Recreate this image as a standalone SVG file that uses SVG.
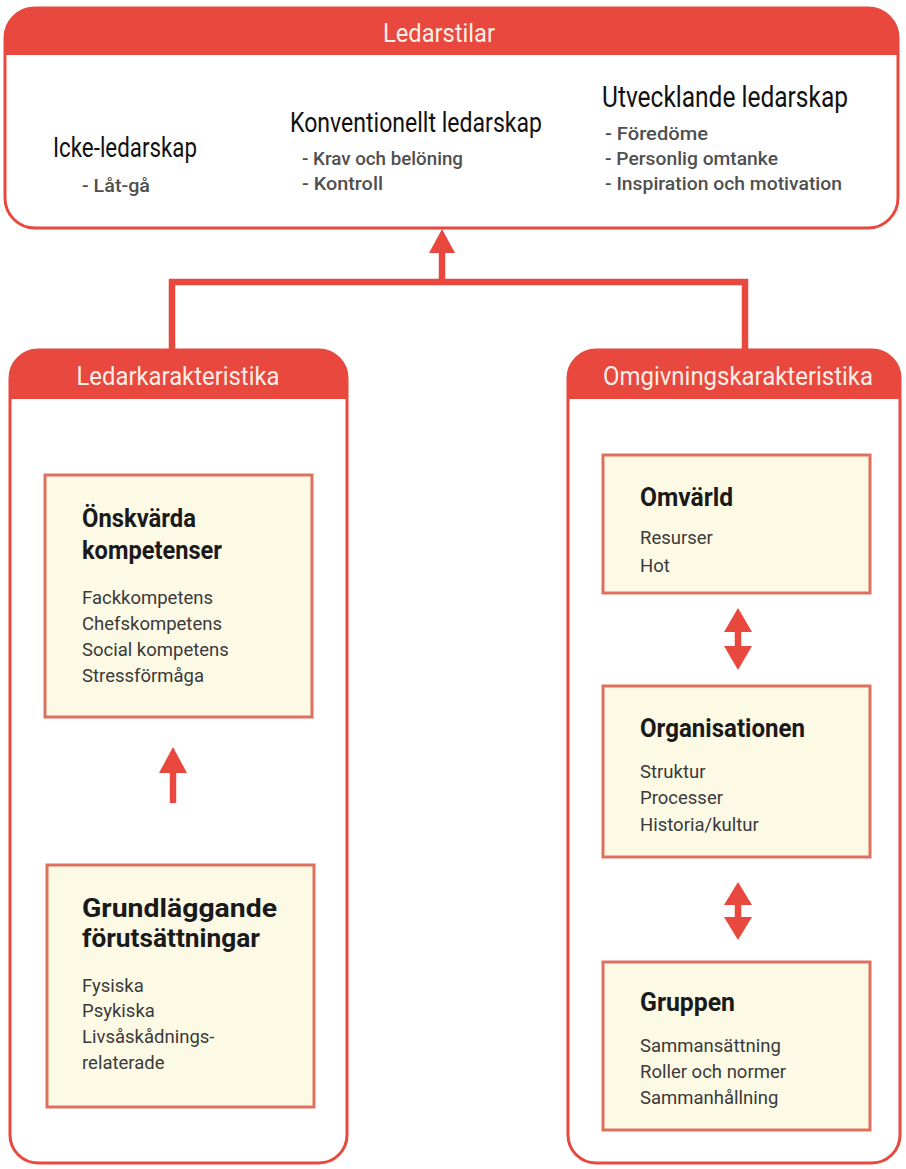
<svg xmlns="http://www.w3.org/2000/svg" width="906" height="1169" viewBox="0 0 906 1169">
  <style>
    .frame { fill: #ffffff; stroke: #e8483d; stroke-width: 3; }
    .band { fill: #e8483d; }
    .band-text { font-family: "Roboto", "Liberation Sans", sans-serif; font-size: 25px; fill: #fdeee6; text-anchor: middle; }
    .style-title { font-family: "Roboto", "Liberation Sans", sans-serif; font-size: 27px; fill: #111111; }
    .style-item { font-family: "Roboto", "Liberation Sans", sans-serif; font-size: 19px; font-weight: 500; fill: #4f4f4f; }
    .card { fill: #fcf9e5; stroke: #de7060; stroke-width: 3; }
    .card-title { font-family: "Roboto", "Liberation Sans", sans-serif; font-size: 25px; font-weight: bold; fill: #1a1a1a; }
    .card-item { font-family: "Roboto", "Liberation Sans", sans-serif; font-size: 18.5px; fill: #3a3a3a; }
    .link { fill: none; stroke: #e8483d; stroke-width: 6.5; }
    .head { fill: #e8483d; }
  </style>

  <rect width="906" height="1169" fill="#ffffff"/>

  <!-- Ledarstilar -->
  <g id="ledarstilar">
    <rect class="frame" x="5" y="8" width="893" height="220" rx="30"/>
    <path class="band" d="M5,55 V38 A30,30 0 0 1 35,8 H868 A30,30 0 0 1 898,38 V55 Z"/>
    <text class="band-text" x="439" y="42" textLength="112" lengthAdjust="spacingAndGlyphs">Ledarstilar</text>
    <text class="style-title" x="53" y="157" textLength="144" lengthAdjust="spacingAndGlyphs">Icke-ledarskap</text>
    <text class="style-item" x="82" y="192" textLength="68" lengthAdjust="spacingAndGlyphs">- Låt-gå</text>
    <text class="style-title" x="290" y="132" textLength="252" lengthAdjust="spacingAndGlyphs">Konventionellt ledarskap</text>
    <text class="style-item" x="302" y="165" textLength="161" lengthAdjust="spacingAndGlyphs">- Krav och belöning</text>
    <text class="style-item" x="302" y="190" textLength="81" lengthAdjust="spacingAndGlyphs">-  Kontroll</text>
    <text class="style-title" x="602" y="107" style="font-size:30px" textLength="246" lengthAdjust="spacingAndGlyphs">Utvecklande ledarskap</text>
    <text class="style-item" x="605" y="140" textLength="103" lengthAdjust="spacingAndGlyphs">- Föredöme</text>
    <text class="style-item" x="605" y="165" textLength="173" lengthAdjust="spacingAndGlyphs">- Personlig omtanke</text>
    <text class="style-item" x="605" y="190" textLength="237" lengthAdjust="spacingAndGlyphs">- Inspiration och motivation</text>
  </g>

  <!-- Ledarkarakteristika -->
  <g id="ledarkarakteristika">
    <rect class="frame" x="10" y="350" width="337" height="813" rx="28"/>
    <path class="band" d="M10,399 V378 A28,28 0 0 1 38,350 H319 A28,28 0 0 1 347,378 V399 Z"/>
    <text class="band-text" x="178" y="385" textLength="203" lengthAdjust="spacingAndGlyphs">Ledarkarakteristika</text>
  </g>

  <g id="onskvarda-kompetenser">
    <rect class="card" x="45" y="475" width="267" height="242"/>
    <text class="card-title" x="82" y="527" textLength="114" lengthAdjust="spacingAndGlyphs">Önskvärda</text>
    <text class="card-title" x="82" y="559" textLength="140" lengthAdjust="spacingAndGlyphs">kompetenser</text>
    <text class="card-item" x="82" y="604">Fackkompetens</text>
    <text class="card-item" x="82" y="630">Chefskompetens</text>
    <text class="card-item" x="82" y="656">Social kompetens</text>
    <text class="card-item" x="82" y="682">Stressförmåga</text>
  </g>

  <g id="grundlaggande-forutsattningar">
    <rect class="card" x="47" y="865" width="267" height="242"/>
    <text class="card-title" x="82" y="917" textLength="195" lengthAdjust="spacingAndGlyphs">Grundläggande</text>
    <text class="card-title" x="82" y="947" textLength="178" lengthAdjust="spacingAndGlyphs">förutsättningar</text>
    <text class="card-item" x="82" y="992">Fysiska</text>
    <text class="card-item" x="82" y="1017">Psykiska</text>
    <text class="card-item" x="82" y="1043">Livsåskådnings-</text>
    <text class="card-item" x="82" y="1069">relaterade</text>
  </g>

  <!-- Omgivningskarakteristika -->
  <g id="omgivningskarakteristika">
    <rect class="frame" x="568" y="350" width="332" height="813" rx="28"/>
    <path class="band" d="M568,399 V378 A28,28 0 0 1 596,350 H872 A28,28 0 0 1 900,378 V399 Z"/>
    <text class="band-text" x="738" y="385" textLength="270" lengthAdjust="spacingAndGlyphs">Omgivningskarakteristika</text>
  </g>

  <g id="omvarld">
    <rect class="card" x="603" y="455" width="267" height="138"/>
    <text class="card-title" x="640" y="506" textLength="93" lengthAdjust="spacingAndGlyphs">Omvärld</text>
    <text class="card-item" x="640" y="544">Resurser</text>
    <text class="card-item" x="640" y="572">Hot</text>
  </g>

  <g id="organisationen">
    <rect class="card" x="603" y="686" width="267" height="171"/>
    <text class="card-title" x="640" y="737" textLength="165" lengthAdjust="spacingAndGlyphs">Organisationen</text>
    <text class="card-item" x="640" y="778">Struktur</text>
    <text class="card-item" x="640" y="804">Processer</text>
    <text class="card-item" x="640" y="831">Historia/kultur</text>
  </g>

  <g id="gruppen">
    <rect class="card" x="603" y="962" width="267" height="168"/>
    <text class="card-title" x="640" y="1011" textLength="95" lengthAdjust="spacingAndGlyphs">Gruppen</text>
    <text class="card-item" x="640" y="1052">Sammansättning</text>
    <text class="card-item" x="640" y="1078">Roller och normer</text>
    <text class="card-item" x="640" y="1104">Sammanhållning</text>
  </g>

  <!-- Connectors -->
  <g id="connectors">
    <polyline class="link" points="172,350 172,282 745,282 745,350"/>
    <line class="link" x1="442" y1="282" x2="442" y2="250"/>
    <polygon class="head" points="442,229 429,253 455,253"/>
    <!-- Grundläggande förutsättningar to Önskvärda kompetenser -->
    <line class="link" x1="173" y1="770" x2="173" y2="803"/>
    <polygon class="head" points="173,747 159,773 187,773"/>
    <!-- Omvärld and Organisationen -->
    <line class="link" x1="738" y1="628" x2="738" y2="652"/>
    <polygon class="head" points="738,608 724,632 752,632"/>
    <polygon class="head" points="738,670 724,646 752,646"/>
    <!-- Organisationen and Gruppen -->
    <line class="link" x1="738" y1="900" x2="738" y2="922"/>
    <polygon class="head" points="738,882 724,905 752,905"/>
    <polygon class="head" points="738,940 724,917 752,917"/>
  </g>
</svg>
